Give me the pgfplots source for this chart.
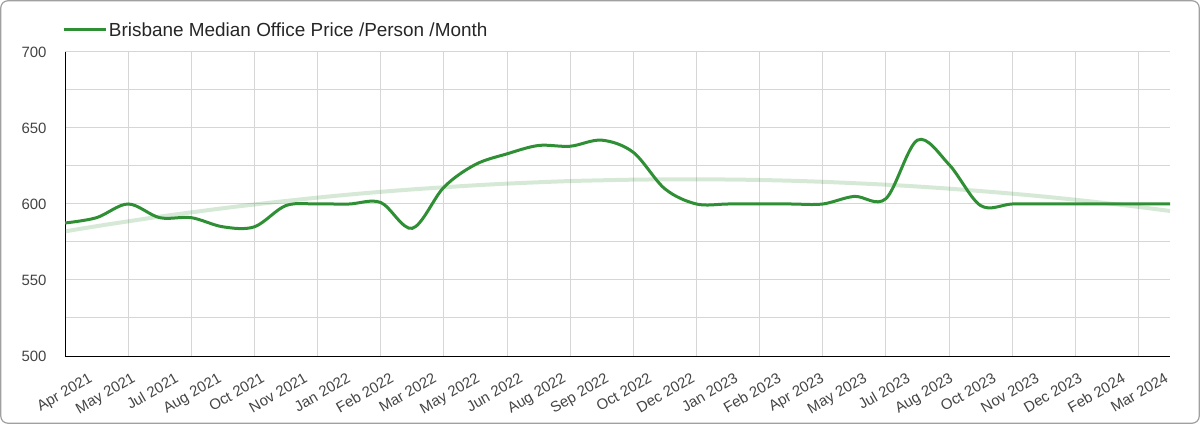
\documentclass[border=0pt]{standalone}
\usepackage{fontspec}
\setmainfont{Liberation Sans}
\usepackage{pgfplots}
\pgfplotsset{compat=1.18}
\definecolor{lineg}{HTML}{2F8F34}
\definecolor{gridc}{HTML}{D6D6D6}
\definecolor{txt}{HTML}{444444}
\definecolor{frame}{HTML}{A0A0A0}
\begin{document}
\begin{tikzpicture}
\path[use as bounding box] (0bp,0bp) rectangle (1200bp,424bp);
\draw[frame, line width=1.2bp, rounded corners=7bp] (0.8bp,0.8bp) rectangle (1199.2bp,423.2bp);
\begin{axis}[
  at={(65bp,68bp)}, anchor=south west,
  scale only axis, width=1105bp, height=304bp,
  xmin=0, xmax=35, ymin=500, ymax=700,
  /pgf/number format/assume math mode=true,
  axis x line*=bottom, axis y line*=left,
  axis line style={black, line width=1bp, -},
  xtick={0,2,...,34}, xticklabels={},
  ytick={500,550,...,700}, minor ytick={525,575,625,675},
  xmajorgrids, ymajorgrids, yminorgrids,
  grid style={gridc, line width=1bp},
  minor grid style={gridc, line width=1bp},
  major tick length=0pt, minor tick length=0pt,
  yticklabel style={font=\fontsize{15}{15}\selectfont, text=txt, xshift=-15bp},
  extra x ticks={0.855,2.218,3.582,4.945,6.308,7.672,9.035,10.398,11.761,13.125,14.488,15.851,17.215,18.578,19.941,21.305,22.668,24.031,25.394,26.758,28.121,29.484,30.848,32.211,33.574,34.938},
  extra x tick labels={Apr 2021,May 2021,Jul 2021,Aug 2021,Oct 2021,Nov 2021,Jan 2022,Feb 2022,Mar 2022,May 2022,Jun 2022,Aug 2022,Sep 2022,Oct 2022,Dec 2022,Jan 2023,Feb 2023,Apr 2023,May 2023,Jul 2023,Aug 2023,Oct 2023,Nov 2023,Dec 2023,Feb 2024,Mar 2024},
  extra x tick style={grid=none, major tick length=0pt,
    tick label style={yshift=-16bp, xshift=-4bp, rotate=30, anchor=north east, inner sep=0pt,
      font=\fontsize{15}{15}\selectfont, text=txt}},
  legend style={draw=none, fill=none, inner sep=0pt, outer sep=0pt,
    at={(axis description cs:0,1)}, anchor=west, yshift=22bp, xshift=-3bp,
    font=\fontsize{19}{19}\selectfont, text=black!85},
  legend cell align=left,
  legend image code/.code={\draw[#1, line width=3bp] (0bp,0bp) -- (36bp,0bp); \path (0bp,0bp) -- (42bp,0bp);},
]
\addplot[lineg, line width=3bp, smooth, tension=0.55] coordinates {
(0,587.5) (1,591) (2,600) (3,591) (4,591) (5,585) (6,585) (7,599) (8,600) (9,600)
(10,601) (11,584) (12,611) (13,626) (14,633) (15,638.5) (16,638) (17,642) (18,634) (19,610)
(20,600) (21,600) (22,600) (23,600) (24,600) (25,605) (26,603.5) (27,642) (28,626) (29,599)
(30,600) (31,600) (32,600) (33,600) (34,600) (35,600)
};
\addlegendentry{Brisbane Median Office Price /Person /Month}
\addplot[lineg, draw opacity=0.2, line width=4bp, smooth, forget plot] coordinates {
(0,582.0) (1,585.4) (2,588.6) (3,591.7) (4,594.5) (5,597.2) (6,599.7) (7,602.0) (8,604.2) (9,606.2)
(10,608.0) (11,609.6) (12,611.0) (13,612.3) (14,613.4) (15,614.3) (16,615.1) (17,615.6) (18,616.0) (19,616.2)
(20,616.2) (21,616.1) (22,615.8) (23,615.3) (24,614.6) (25,613.7) (26,612.7) (27,611.5) (28,610.1) (29,608.5)
(30,606.8) (31,604.9) (32,602.8) (33,600.5) (34,598.1) (35,595.4)
};
\end{axis}
\end{tikzpicture}
\end{document}
